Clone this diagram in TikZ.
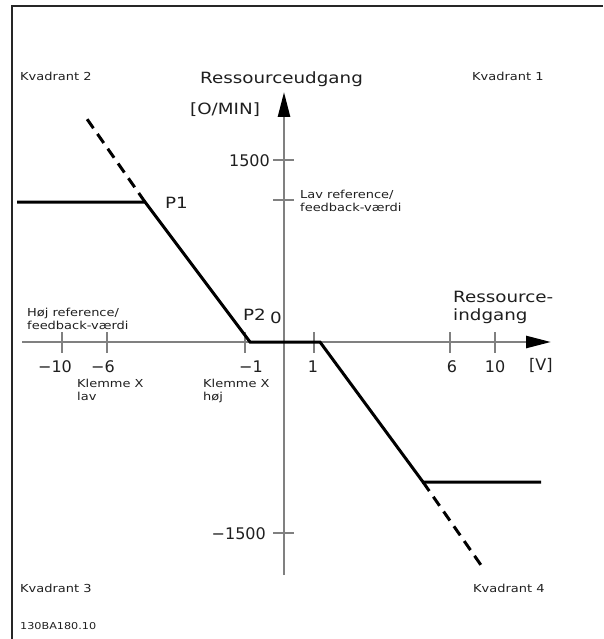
\documentclass[tikz,border=0pt]{standalone}
\usepackage{fontspec}
\setmainfont{DejaVu Sans}
\newfontfamily\widefont[FakeStretch=1.18]{DejaVu Sans}
\usetikzlibrary{arrows.meta}
\definecolor{axisgray}{gray}{0.5}
\definecolor{txt}{gray}{0.12}
\tikzset{
  frameline/.style={line width=2pt, draw=black!85},
  axisline/.style={line width=2.6pt, draw=axisgray, -{Triangle[length=25pt,width=12pt,color=black]}},
  tickline/.style={line width=1.4pt, draw=axisgray},
  curve/.style={line width=3pt, draw=black, line join=miter},
  dashcurve/.style={line width=3pt, draw=black, dash pattern=on 11pt off 7pt},
  small/.style={inner sep=0pt, text=txt, font=\widefont\fontsize{11}{12.5}\selectfont, align=left},
  big/.style={inner sep=0pt, text=txt, font=\widefont\fontsize{15.5}{18}\selectfont, align=left},
  num/.style={inner sep=0pt, text=txt, font=\fontsize{16}{18}\selectfont},
}
\begin{document}
\begin{tikzpicture}[x=1pt,y=-1pt]
\useasboundingbox (0,0) rectangle (603,639);
% frame
\coordinate (fbl) at (12,639);
\coordinate (ftl) at (12,6);
\coordinate (ftr) at (603,6);
\draw[frameline] (fbl) -- (ftl) -- (ftr);
% axes
\coordinate (ybot) at (284,575);
\coordinate (ytop) at (284,92);
\coordinate (xleft) at (22,342);
\coordinate (xright) at (551,342);
\draw[axisline] (xleft) -- (xright);
\draw[axisline] (ybot) -- (ytop);
% y ticks
\foreach \n/\y in {yA/160, yB/200, yC/533} {
  \coordinate (\n l) at (273,\y);
  \coordinate (\n r) at (294,\y);
  \draw[tickline] (\n l) -- (\n r);
}
% x ticks
\foreach \n/\x in {xA/62, xB/107, xC/245, xD/314, xE/450, xF/495} {
  \coordinate (\n t) at (\x,332);
  \coordinate (\n b) at (\x,353);
  \draw[tickline] (\n t) -- (\n b);
}
% curve
\coordinate (c0) at (17,202);
\coordinate (P1) at (145,202);
\coordinate (P2) at (250,342);
\coordinate (c3) at (320,342);
\coordinate (c4) at (423,482);
\coordinate (c5) at (541,482);
\coordinate (d1) at (87,119);
\coordinate (d2) at (483,568);
\draw[curve] (c0) -- (P1) -- (P2) -- (c3) -- (c4) -- (c5);
\draw[dashcurve] (P1) -- (d1);
\draw[dashcurve] (c4) -- (d2);
% labels
\node[small, anchor=base west] (q2) at (20,81) {Kvadrant 2};
\node[small, anchor=base west] (q1) at (472,81) {Kvadrant 1};
\node[small, anchor=base west] (q3) at (20,592) {Kvadrant 3};
\node[small, anchor=base west] (q4) at (473,592) {Kvadrant 4};
\node[small, anchor=base west, font=\widefont\fontsize{9.5}{11}\selectfont] (code) at (20,629) {130BA180.10};
\node[big, anchor=base west] (yl) at (200,84) {Ressourceudgang};
\node[big, anchor=base west] (yu) at (190,115) {[O/MIN]};
\node[num, anchor=base east] (n1500) at (270,167) {1500};
\node[num, anchor=base east] (nm1500) at (266,539) {−1500};
\node[small, anchor=base west] (lav) at (300,211) {Lav reference/\\feedback-værdi};
\node[small, anchor=base west] (hoj) at (27,329) {Høj reference/\\feedback-værdi};
\node[big, anchor=base west] (p1) at (165,208) {P1};
\node[big, anchor=base west] (p2) at (243,320) {P2};
\node[big, anchor=base west] (zero) at (270,323) {0};
\node[big, anchor=base west] (xl) at (453,320) {Ressource-\\indgang};
\node[num, anchor=base] (lm10) at (55,372) {−10};
\node[num, anchor=base] (lm6) at (103,372) {−6};
\node[num, anchor=base] (lm1) at (251,372) {−1};
\node[num, anchor=base] (l1) at (313,372) {1};
\node[num, anchor=base] (l6) at (452,372) {6};
\node[num, anchor=base] (l10) at (495,372) {10};
\node[num, anchor=base west] (lv) at (529,370) {[V]};
\node[small, anchor=base west] (klav) at (77,400) {Klemme X\\lav};
\node[small, anchor=base west] (khoj) at (203,400) {Klemme X\\høj};
\end{tikzpicture}
\end{document}
